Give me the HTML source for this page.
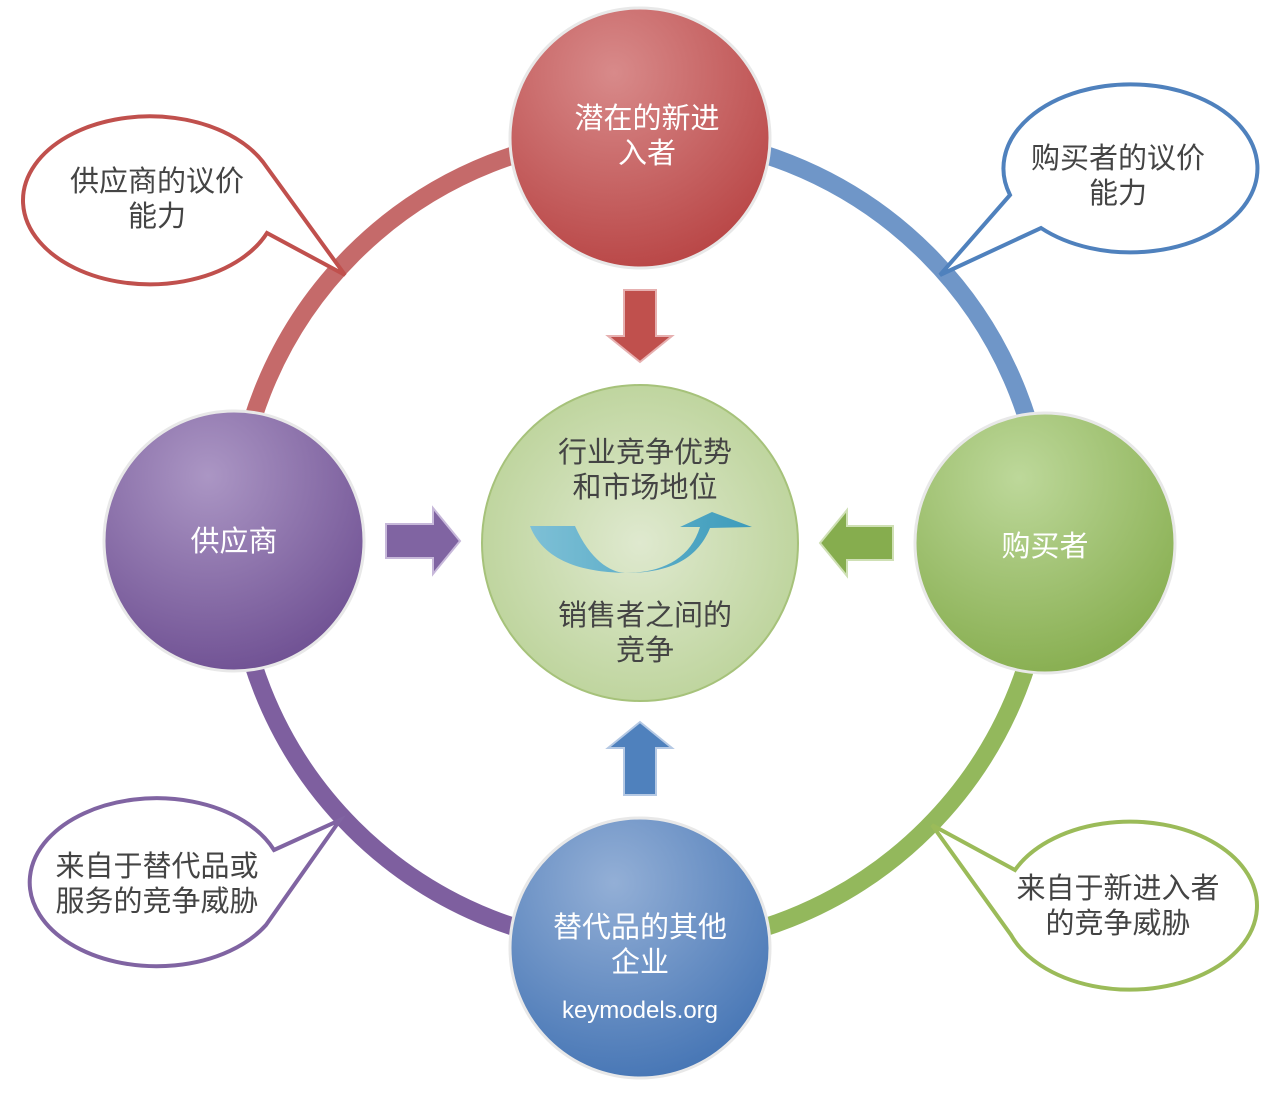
<!DOCTYPE html>
<html><head><meta charset="utf-8"><style>
body{margin:0;background:#fff}
svg text{font-family:"Liberation Sans","Noto Sans CJK SC",sans-serif}
</style></head><body>
<svg width="1280" height="1088" viewBox="0 0 1280 1088" xmlns="http://www.w3.org/2000/svg">
<defs>
<radialGradient id="gr" cx="40%" cy="25%" r="80%"><stop offset="0" stop-color="#d88a8a"/><stop offset="1" stop-color="#b84444"/></radialGradient>
<radialGradient id="gp" cx="40%" cy="25%" r="80%"><stop offset="0" stop-color="#ab96c4"/><stop offset="1" stop-color="#6e4f92"/></radialGradient>
<radialGradient id="gg" cx="40%" cy="25%" r="80%"><stop offset="0" stop-color="#bdd89a"/><stop offset="1" stop-color="#86ad4e"/></radialGradient>
<radialGradient id="gb" cx="40%" cy="25%" r="80%"><stop offset="0" stop-color="#93afd6"/><stop offset="1" stop-color="#4474b4"/></radialGradient>
<radialGradient id="gc" cx="50%" cy="50%" r="55%"><stop offset="0" stop-color="#dfe9cf"/><stop offset="1" stop-color="#bcd39a"/></radialGradient>
<linearGradient id="sw" x1="0" x2="1"><stop offset="0" stop-color="#7ec0d6"/><stop offset="1" stop-color="#3c9bbb"/></linearGradient>
</defs>
<g fill="none" stroke-width="18">
<path d="M234,541 A406,406 0 0 1 640,135" stroke="#c56a6a"/>
<path d="M640,135 A406,406 0 0 1 1046,541" stroke="#6f96c8"/>
<path d="M1046,541 A406,406 0 0 1 640,947" stroke="#93b85c"/>
<path d="M640,947 A406,406 0 0 1 234,541" stroke="#7e5f9f"/>
</g>
<g stroke-width="4" fill="#fff" stroke-linejoin="miter">
<path d="M263,162 L345,275 L267,233 A127,84 0 1 1 263,162 Z" stroke="#c0504d"/>
<path d="M1010,195 L940,275 L1041,228 A127,84 0 1 0 1010,195 Z" stroke="#4f81bd"/>
<path d="M274,850 L340,820 L266,925 A127,84 0 1 1 274,850 Z" stroke="#8064a2"/>
<path d="M1015,870 L932,825 L1011,935 A127,84 0 1 0 1015,870 Z" stroke="#9bbb59"/>
</g>
<g fill="#444" font-size="29" text-anchor="middle">
<text x="157" y="191">供应商的议价</text><text x="157" y="226">能力</text>
<text x="1118" y="168">购买者的议价</text><text x="1118" y="203">能力</text>
<text x="157" y="876">来自于替代品或</text><text x="157" y="911">服务的竞争威胁</text>
<text x="1118" y="898">来自于新进入者</text><text x="1118" y="933">的竞争威胁</text>
</g>
<g stroke="#e8e8e8" stroke-width="3">
<circle cx="640" cy="138" r="130" fill="url(#gr)"/>
<circle cx="234" cy="541" r="130" fill="url(#gp)"/>
<circle cx="1045" cy="543" r="130" fill="url(#gg)"/>
<circle cx="640" cy="948" r="130" fill="url(#gb)"/>
<circle cx="640" cy="543" r="158" fill="url(#gc)" stroke="#a6c27a" stroke-width="2"/>
</g>
<g fill="#fff" font-size="29" text-anchor="middle">
<text x="647" y="128">潜在的新进</text><text x="647" y="163">入者</text>
<text x="234" y="551">供应商</text>
<text x="1045" y="556">购买者</text>
<text x="640" y="937">替代品的其他</text><text x="640" y="972">企业</text>
<text x="640" y="1018" font-size="24">keymodels.org</text>
</g>
<polygon points="624,290 656,290 656,336 672,336 640,362 608,336 624,336" fill="#c0504d" stroke="#e6b0b0" stroke-width="2"/>
<polygon points="386,524 433,524 433,508 460,541 433,574 433,558 386,558" fill="#8064a2" stroke="#c7b8da" stroke-width="2"/>
<polygon points="893,526 847,526 847,510 820,543 847,576 847,560 893,560" fill="#86ad4e" stroke="#cfe0b5" stroke-width="2"/>
<polygon points="624,795 656,795 656,748 672,748 640,722 608,748 624,748" fill="#4f81bd" stroke="#b5c9e4" stroke-width="2"/>
<path d="M530,526 L575,526 C590,560 610,572 625,573 C660,573 690,560 700,527 L680,527 L712,512 L752,527 L710,528 C695,565 660,573 625,573 C590,572 545,565 530,526 Z" fill="url(#sw)"/>
<g fill="#444" font-size="29" text-anchor="middle">
<text x="645" y="462">行业竞争优势</text><text x="645" y="497">和市场地位</text>
<text x="645" y="625">销售者之间的</text><text x="645" y="660">竞争</text>
</g>
</svg>
</body></html>
